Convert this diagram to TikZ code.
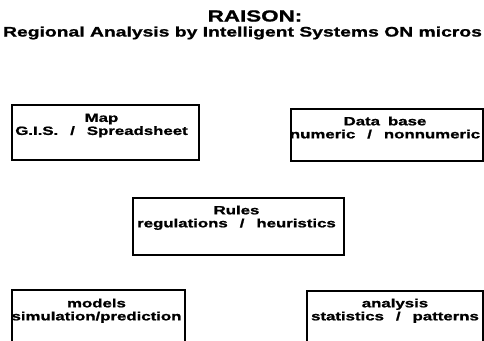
\documentclass[tikz,border=0pt]{standalone}
\usepackage{fontspec}
\newfontfamily\scanfont{Liberation Sans}[FakeStretch=1.4, FakeBold=1.2]
\usetikzlibrary{positioning}
\newcommand\slashsep{\hspace{12pt}/\hspace{12pt}}
\tikzset{
  box/.style={draw, line width=1.1pt, inner sep=0pt},
  lbl/.style={font=\scanfont\bfseries\fontsize{12}{13}\selectfont, align=center, inner sep=0pt, anchor=north},
}
\begin{document}
\begin{tikzpicture}[x=1pt,y=-1pt]
%set diagram to the page size
\useasboundingbox (0,0) rectangle (484,340);
\clip (0,0) rectangle (484,340);

% Title
\node[font=\scanfont\bfseries\fontsize{16}{18}\selectfont] (title) at (255,16) {RAISON:};
\node[font=\scanfont\bfseries\fontsize{13.8}{15}\selectfont] (subtitle) at (242.5,33) {Regional Analysis by Intelligent Systems ON micros};

% Boxes
\node[box, minimum width=187, minimum height=55] (map) at (105.5,132.5) {};
\node[box, minimum width=192, minimum height=52] (database) at (387,135) {};
\node[box, minimum width=211, minimum height=57] (rules) at (238.5,226.5) {};
\node[box, minimum width=173, minimum height=70] (models) at (98.5,325) {};
\node[box, minimum width=176, minimum height=70] (analysis) at (395,326) {};

% Text in boxes
\node[lbl, below=9pt of map.north, xshift=-4pt] (maptxt) {Map\\G.I.S.\slashsep Spreadsheet};
\node[lbl, below=8pt of database.north, xshift=-2pt] (databasetxt) {Data\hspace{8pt}base\\numeric\slashsep nonnumeric};
\node[lbl, below=8pt of rules.north, xshift=-2pt] (rulestxt) {Rules\\regulations\slashsep heuristics};
\node[lbl, below=9pt of models.north, xshift=-2pt] (modelstxt) {models\\simulation/prediction};
\node[lbl, below=8pt of analysis.north] (analysistxt) {analysis\\statistics\slashsep patterns};

\end{tikzpicture}
\end{document}
